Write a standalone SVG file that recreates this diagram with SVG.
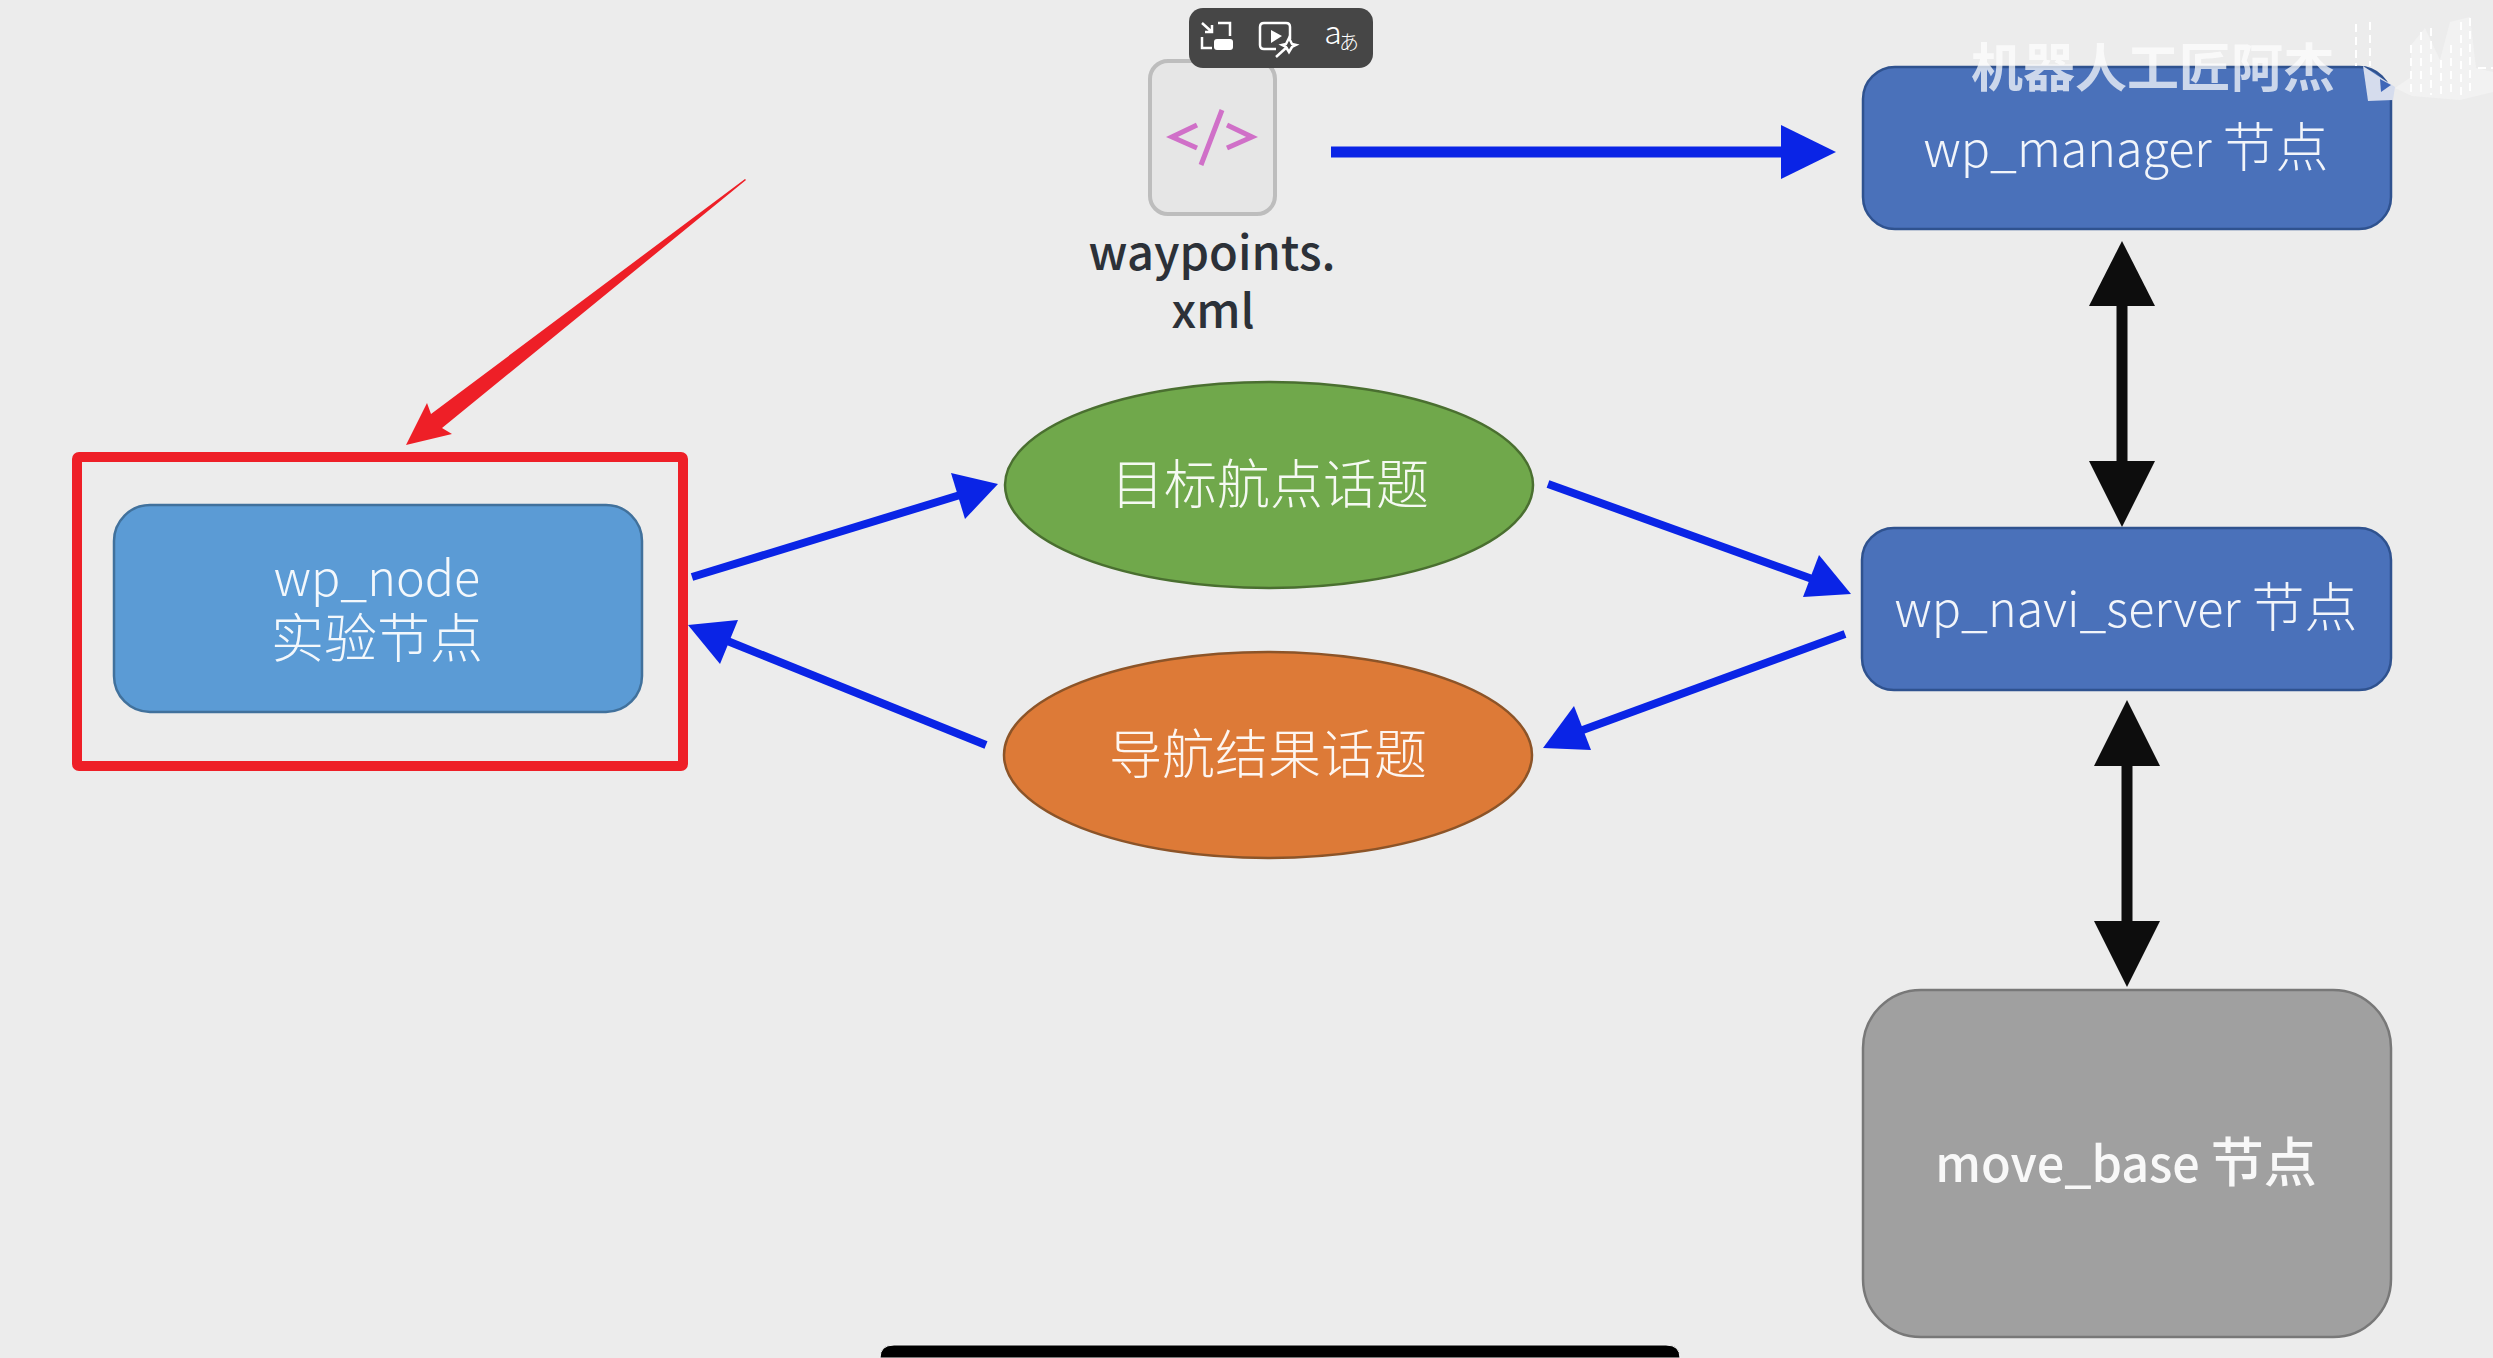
<svg xmlns="http://www.w3.org/2000/svg" width="2493" height="1358" viewBox="0 0 2493 1358">
<style>
text{font-family:"Noto Sans CJK SC","Open Sans",sans-serif;text-anchor:middle}
.l{fill:#fff;font-size:48.5px;font-weight:300;fill-opacity:.93}
.z{font-size:53px}
.b{stroke:#0a24e6;fill:none}
.k{stroke:#0d0d0d;stroke-width:11;fill:none}
.ic{fill:none;stroke:#fff;stroke-width:2.5}
.code{fill:none;stroke:#d070c8;stroke-width:5}
</style>
<rect width="2493" height="1358" fill="#ececec"/>
<g id="connectors">
<path class="b" stroke-width="11" d="M1331 152H1790"/><path fill="#0a24e6" d="M1836 152L1781 125V179Z"/>
<path class="b" stroke-width="8" d="M692 577L960 495"/><path fill="#0a24e6" d="M998 484L951 473L965 519Z"/>
<path class="b" stroke-width="8" d="M1548 484L1815 580"/><path fill="#0a24e6" d="M1851 594L1819 555L1803 597Z"/>
<path class="b" stroke-width="8" d="M1845 634L1580 731"/><path fill="#0a24e6" d="M1543 748L1591 750L1574 706Z"/>
<path class="b" stroke-width="8" d="M986 745L725 640"/><path fill="#0a24e6" d="M688 625L720 664L738 620Z"/>
<path class="k" d="M2122 300V470"/><path fill="#0d0d0d" d="M2122 241L2089 306H2155Z"/><path fill="#0d0d0d" d="M2122 527L2089 461H2155Z"/>
<path class="k" d="M2127 760V925"/><path fill="#0d0d0d" d="M2127 700L2094 766H2160Z"/><path fill="#0d0d0d" d="M2127 987L2094 921H2160Z"/>
<path fill="#ee1f27" d="M745 179L431 414L427 403L406 445L452 434L442 428L746 180Z"/>
</g>
<g id="highlight"><rect x="77" y="457" width="606" height="309" rx="2" fill="none" stroke="#ee1f27" stroke-width="10"/></g>
<g id="wp_node"><rect x="114" y="505" width="528" height="207" rx="36" fill="#5b9bd5" stroke="#41719c" stroke-width="2.5"/>
<text class="l" x="377" y="596">wp_node</text><text class="l z" x="377" y="658">实验节点</text></g>
<g id="goal_topic"><ellipse cx="1269" cy="485" rx="264" ry="103" fill="#70a84b" stroke="#4a6f30" stroke-width="2.5"/><text class="l z" x="1270" y="504">目标航点话题</text></g>
<g id="result_topic"><ellipse cx="1268" cy="755" rx="264" ry="103" fill="#dd7a37" stroke="#8c5428" stroke-width="2.5"/><text class="l z" x="1268" y="774">导航结果话题</text></g>
<g id="wp_manager"><rect x="1863" y="67" width="528" height="162" rx="32" fill="#4a71ba" stroke="#2f528f" stroke-width="2.5"/><text class="l" x="2126" y="167">wp_manager <tspan class="z">节点</tspan></text></g>
<g id="wp_navi_server"><rect x="1862" y="528" width="529" height="162" rx="32" fill="#4a71ba" stroke="#2f528f" stroke-width="2.5"/><text class="l" x="2126" y="627">wp_navi_server <tspan class="z">节点</tspan></text></g>
<g id="move_base"><rect x="1863" y="990" width="528" height="347" rx="58" fill="#a0a0a0" stroke="#787878" stroke-width="2.5"/><text class="l" x="2126" y="1182" style="font-weight:500">move_base <tspan class="z">节点</tspan></text></g>
<g id="waypoints"><rect x="1150" y="61" width="125" height="153" rx="18" fill="#e6e6e6" stroke="#bdbdbd" stroke-width="4"/>
<path class="code" d="M1197 125L1172 137L1197 148M1227 125L1252 137L1227 148M1222 110L1201 165"/>
<text x="1212" y="270" font-size="47" font-weight="500" fill="#2c3138">waypoints.</text><text x="1213" y="328" font-size="47" font-weight="500" fill="#2c3138">xml</text></g>
<g id="watermark"><text x="2153" y="87" font-size="52" font-weight="700" fill="#fff" opacity=".72">机器人工匠阿杰</text>
<path fill="#d5dced" d="M2363 66L2395 87L2393 100L2368 101Z"/><path fill="#3e66b8" d="M2380 79L2391 85L2381 92Z"/>
<path fill="#f2f2f2" d="M2395 88L2411 77V45L2425 28L2440 60L2450 22L2470 17L2476 68L2493 72V92L2460 100L2412 96Z"/>
<path fill="none" stroke="#fff" stroke-width="2" stroke-dasharray="8 5" d="M2356 24V66M2370 22V66M2411 45V95M2421 32V95M2431 28V95M2441 60V95M2451 45V95M2461 22V95M2470 18V95M2478 68H2493"/></g>
<g id="toolbar"><rect x="1189" y="8" width="184" height="60" rx="14" fill="#464646"/>
<path class="ic" d="M1202 23L1212 32M1212 25V32H1205M1218 23H1230V36M1202 37V48H1212"/><rect x="1214" y="39" width="19" height="11" rx="3" fill="#fff"/>
<path class="ic" d="M1276 49H1264Q1260 49 1260 45V27Q1260 23 1264 23H1286Q1290 23 1290 27V39"/><path fill="#fff" d="M1271 30L1282 36L1271 43Z"/><path class="ic" d="M1276 57L1287 47"/><path class="ic" d="M1289 38L1292 44L1296 45L1292 47L1289 52L1286 47L1282 45L1286 44Z"/>
<text x="1333" y="44" font-size="32" font-weight="300" fill="#fff" font-family="Open Sans">a</text><text x="1349" y="50" font-size="20" font-weight="300" fill="#fff" style="font-family:'Noto Sans CJK JP',sans-serif">あ</text></g>
<g id="bottom-bar"><path fill="#000" d="M880 1358Q880 1345 894 1345H1666Q1680 1345 1680 1358Z" stroke="#f4f4f4" stroke-width="1"/></g>
</svg>
